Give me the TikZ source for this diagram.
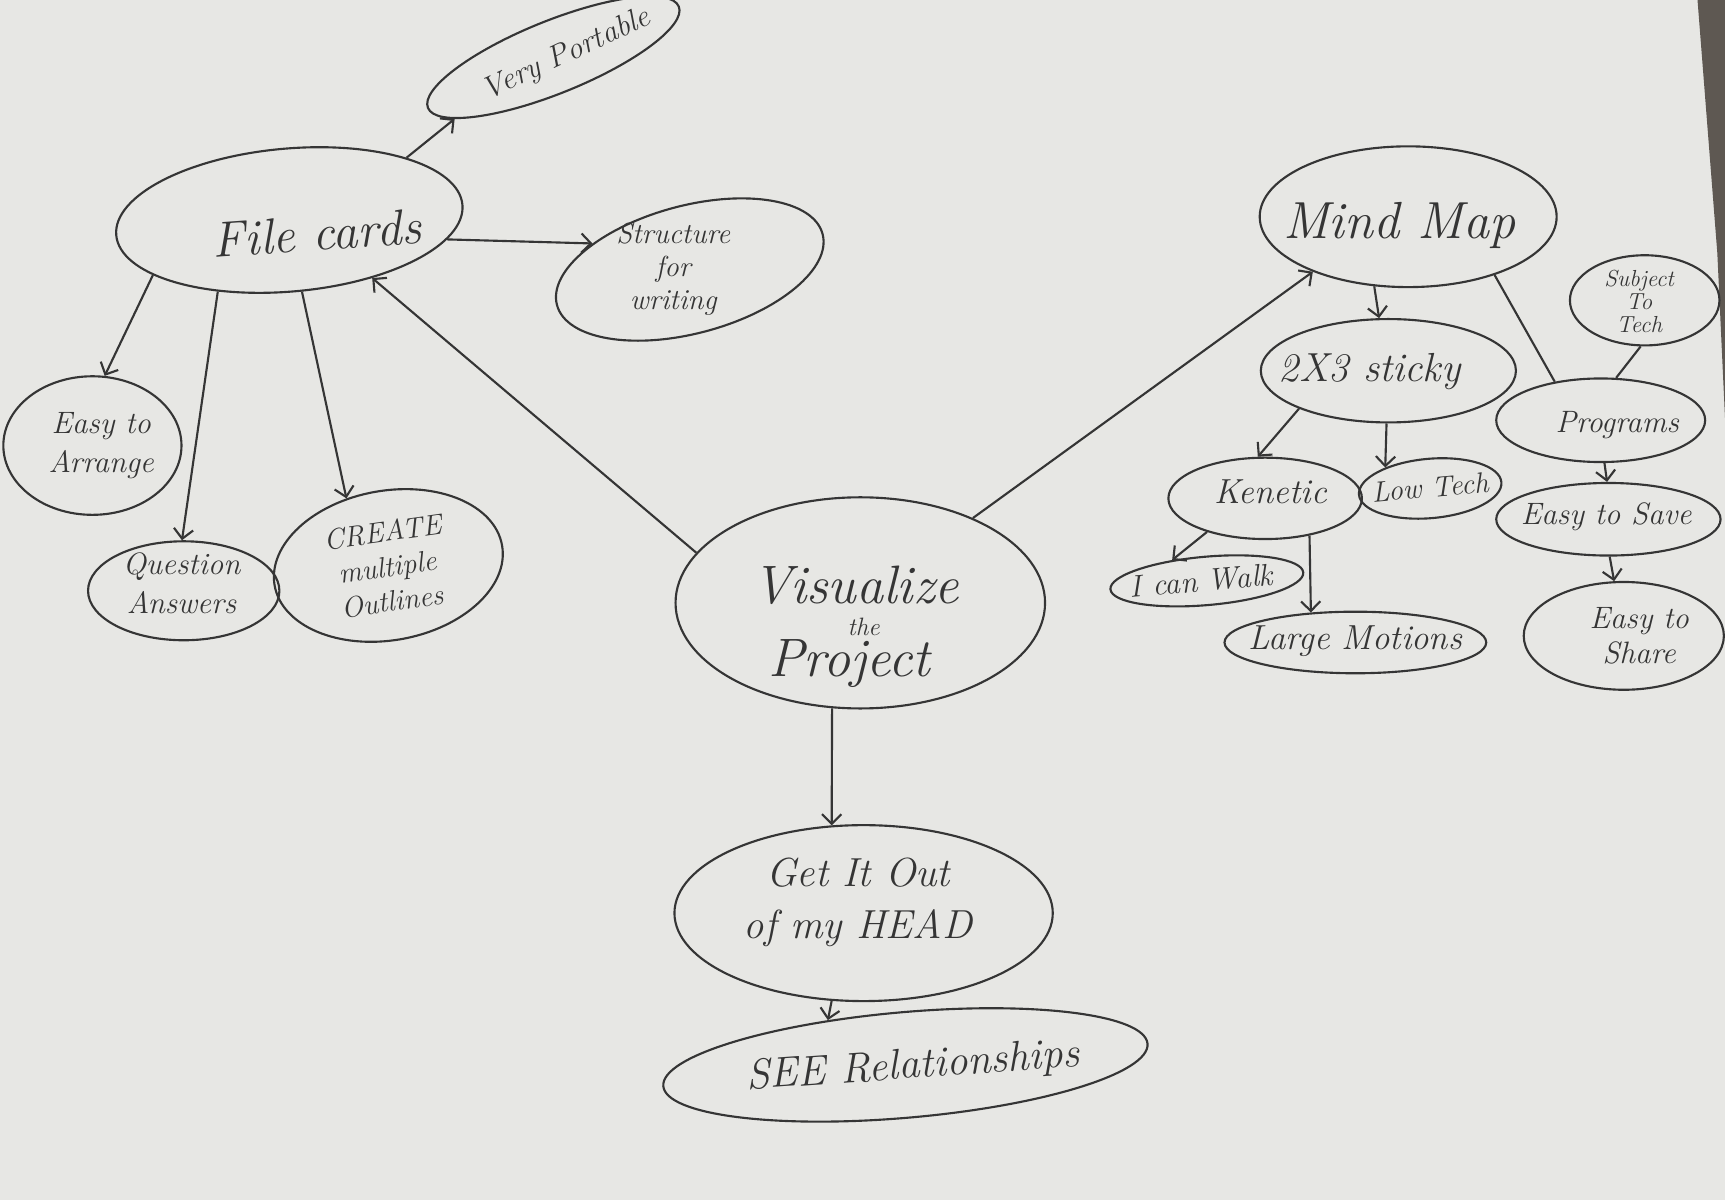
\documentclass[tikz,border=0pt]{standalone}
\usetikzlibrary{shapes.geometric,arrows.meta}
\definecolor{paper}{HTML}{E7E7E4}
\definecolor{ink}{HTML}{353535}
\definecolor{wood}{HTML}{5E5852}
\newcommand{\fsz}[2]{\fontsize{#1}{#2}\selectfont}
\tikzset{
  bub/.style n args={2}{ellipse, draw=ink, line width=1.1pt, inner sep=0pt,
    minimum width=#1*0.04cm, minimum height=#2*0.04cm},
  lbl/.style={text=ink, align=center, inner sep=0pt, font={\itshape\fsz{#1}{#1}}},
  arr/.style={draw=ink, line width=1.1pt, -{Straight Barb[length=5pt,width=10pt]}},
  ln/.style={draw=ink, line width=1.1pt},
}
\begin{document}
\begin{tikzpicture}[x=0.02cm, y=-0.02cm]
\fill[paper] (0,0) rectangle (1568,1091);
\useasboundingbox (0,0) rectangle (1568,1091);
\fill[wood] (1543,0) -- (1568,0) -- (1568,380) -- (1561,230) -- cycle;

% ---- ellipses ----
\node[bub={123}{33}, rotate=22] (vp) at (503,52) {};
\node[bub={158}{65}, rotate=5] (fc) at (263,200) {};
\node[bub={125}{58}, rotate=15] (sw) at (627,245) {};
\node[bub={81}{63}] (ea) at (84,405) {};
\node[bub={87}{45}] (qa) at (167,537) {};
\node[bub={105}{68}, rotate=10] (cr) at (353,514) {};
\node[bub={168}{96}] (vis) at (782,548) {};
\node[bub={172}{80}] (go) at (785,830) {};
\node[bub={221}{48}, rotate=5] (see) at (823,968) {};
\node[bub={135}{64}] (mm) at (1280,197) {};
\node[bub={116}{47}] (st) at (1262,337) {};
\node[bub={88}{37}] (ke) at (1150,453) {};
\node[bub={65}{27}, rotate=5] (lt) at (1300,444) {};
\node[bub={88}{22}, rotate=5] (cw) at (1097,528) {};
\node[bub={119}{28}] (lm) at (1232,584) {};
\node[bub={68}{41}] (su) at (1495,273) {};
\node[bub={95}{38}] (pr) at (1455,382) {};
\node[bub={102}{33}] (es) at (1462,472) {};
\node[bub={91}{49}] (sh) at (1476,578) {};

% ---- texts ----
\node[lbl=16, rotate=25] (vpt) at (515,50) {Very Portable};
\node[lbl=26, rotate=4] (fct) at (288,212) {File cards};
\node[lbl=15] (swt) at (612,245) {Structure\\[2pt]for\\[2pt]writing};
\node[lbl=16] (eat) at (92,405) {Easy to\\[4pt]Arrange};
\node[lbl=16] (qat) at (165,530) {Question\\[4pt]Answers};
\node[lbl=15, rotate=8] (crt) at (352,515) {CREATE\\[3pt]multiple\\[3pt]Outlines};
\node[lbl=28] (visa) at (778,532) {Visualize};
\node[lbl=13] (visb) at (785,570) {the};
\node[lbl=28] (visc) at (772,603) {Project};
\node[lbl=21] (got) at (780,820) {Get It Out\\[6pt]of my HEAD};
\node[lbl=22, rotate=4] (seet) at (830,970) {SEE Relationships};
\node[lbl=27] (mmt) at (1272,205) {Mind Map};
\node[lbl=21] (stt) at (1245,338) {2X3 sticky};
\node[lbl=18] (ket) at (1155,447) {Kenetic};
\node[lbl=15, rotate=5] (ltt) at (1300,443) {Low Tech};
\node[lbl=16, rotate=5] (cwt) at (1092,528) {I can Walk};
\node[lbl=18] (lmt) at (1232,583) {Large Motions};
\node[lbl=12] (sut) at (1490,274) {Subject\\To\\Tech};
\node[lbl=16] (prt) at (1470,386) {Programs};
\node[lbl=16] (est) at (1460,470) {Easy to Save};
\node[lbl=16] (sht) at (1490,578) {Easy to\\[2pt]Share};

% ---- connectors ----
\draw[arr] (fc.23) -- (vp.190);
\draw[arr] (fc.-12) -- (sw.150);
\draw[arr] (fc.197) -- (ea.80);
\draw[arr] (fc.220) -- (qa.92);
\draw[arr] (fc.275) -- (cr.112);
\draw[arr] (vis.163) -- (fc.320);
\draw[arr] (vis.37) -- (mm.210);
\draw[arr] (vis.255) -- (go.110);
\draw[arr] (go.250) -- (see.145);
\draw[arr] (mm.244) -- (st.100);
\draw[ln]  (mm.326) -- (pr.140);
\draw[ln]  (su.265) -- (pr.70);
\draw[arr] (pr.275) -- (es.92);
\draw[arr] (es.272) -- (sh.100);
\draw[arr] (st.203) -- (ke.100);
\draw[arr] (st.268) -- (lt.150);
\draw[arr] (ke.210) -- (cw.144);
\draw[arr] (ke.320) -- (lm.146);
\end{tikzpicture}
\end{document}
